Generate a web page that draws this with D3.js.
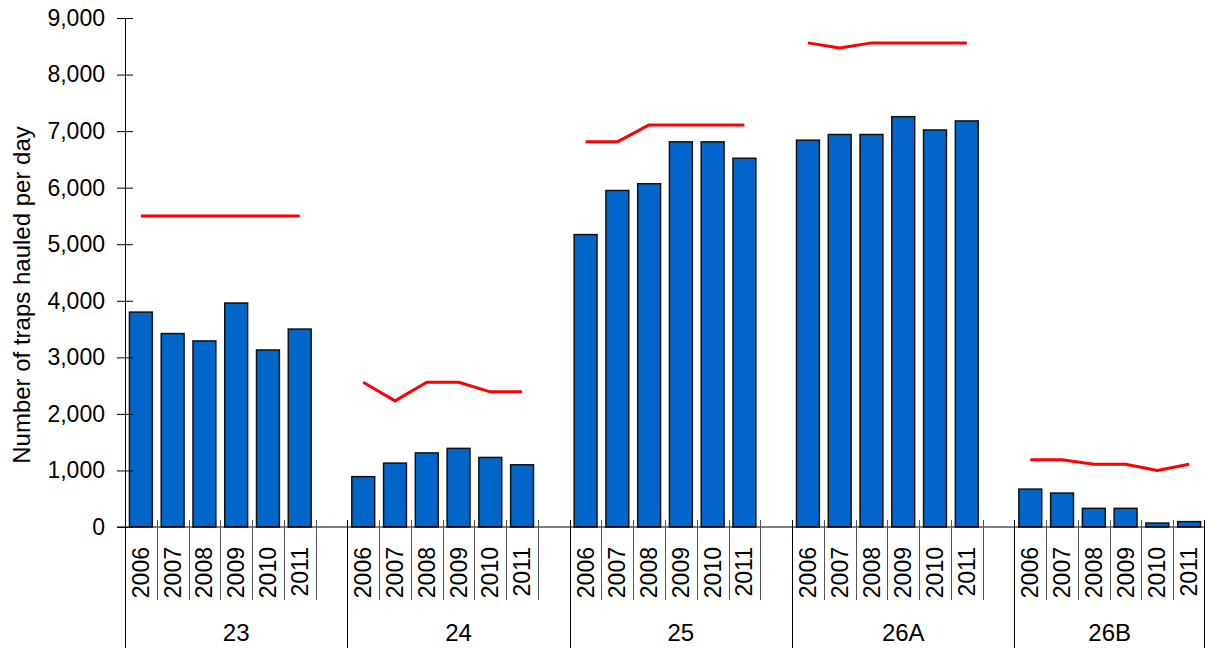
<!DOCTYPE html>
<html>
<head>
<meta charset="utf-8">
<script src="https://cdn.jsdelivr.net/npm/d3@7"></script>
<style>
  html, body { margin: 0; padding: 0; background: #fff; }
  svg { display: block; font-family: "Liberation Sans", Arial, sans-serif; }
</style>
</head>
<body>
<svg id="chart" width="1206" height="648"></svg>
<script>
// ---- data ----
const groups = ["23", "24", "25", "26A", "26B"];
const years = ["2006", "2007", "2008", "2009", "2010", "2011"];
const trapsHauled = {
  "23":  [3800, 3420, 3290, 3960, 3130, 3500],
  "24":  [890, 1130, 1310, 1390, 1230, 1100],
  "25":  [5170, 5950, 6070, 6810, 6810, 6520],
  "26A": [6840, 6940, 6940, 7255, 7020, 7180],
  "26B": [670, 600, 330, 330, 70, 95]
};
const trapLimit = {
  "23":  [5500, 5500, 5500, 5500, 5500, 5500],
  "24":  [2560, 2230, 2560, 2560, 2390, 2390],
  "25":  [6810, 6810, 7110, 7110, 7110, 7110],
  "26A": [8560, 8470, 8560, 8560, 8560, 8560],
  "26B": [1190, 1190, 1110, 1110, 1000, 1110]
};
const yTicks = [0, 1000, 2000, 3000, 4000, 5000, 6000, 7000, 8000, 9000];
const yTitle = "Number of traps hauled per day";

// ---- layout ----
const svg = d3.select("#chart");
const mLeft = 125, mRight = 1205, mTop = 18, mBottom = 527;

// slots: 6 years per group plus one empty slot between groups
const slots = [];
groups.forEach((g, gi) => {
  years.forEach(yr => slots.push(g + "|" + yr));
  if (gi < groups.length - 1) slots.push(g + "|gap");
});

const x = d3.scaleBand().domain(slots).range([mLeft, mRight])
  .paddingInner(0.28).paddingOuter(0.14);
const step = x.step();
const slotStart = k => x(k) - step * x.paddingInner() / 2;
const slotCenter = k => x(k) + x.bandwidth() / 2;

const y = d3.scaleLinear().domain([0, 9000]).range([mBottom, mTop]);

// ---- bars ----
const barData = [];
groups.forEach(g => years.forEach((yr, i) => barData.push({ key: g + "|" + yr, v: trapsHauled[g][i] })));

svg.append("g").selectAll("rect").data(barData).join("rect")
  .attr("x", d => x(d.key))
  .attr("y", d => y(d.v))
  .attr("width", x.bandwidth())
  .attr("height", d => y(0) - y(d.v))
  .attr("fill", "#0066CC")
  .attr("stroke", "#111")
  .attr("stroke-width", 1.5);

// ---- red lines ----
const line = d3.line().x(d => slotCenter(d.key)).y(d => y(d.v));
groups.forEach(g => {
  const pts = years.map((yr, i) => ({ key: g + "|" + yr, v: trapLimit[g][i] }));
  svg.append("path").datum(pts)
    .attr("d", line)
    .attr("fill", "none")
    .attr("stroke", "#FF0000")
    .attr("stroke-width", 3)
    .attr("stroke-linejoin", "round");
});

// ---- y axis ----
const yAxis = svg.append("g").attr("transform", `translate(${mLeft},0)`)
  .call(d3.axisLeft(y).tickValues(yTicks).tickFormat(d3.format(",")).tickSizeInner(8).tickSizeOuter(0).tickPadding(12));
yAxis.select(".domain").attr("stroke", "#000");
yAxis.selectAll(".tick line").attr("x1", 8).attr("x2", -8).attr("stroke", "#000");
yAxis.selectAll(".tick text").attr("font-size", 23).attr("fill", "#000")
  .attr("font-family", "Liberation Sans, Arial, sans-serif");

// y title
svg.append("text")
  .attr("transform", `translate(30,295) rotate(-90)`)
  .attr("text-anchor", "middle")
  .attr("font-size", 24)
  .attr("fill", "#000")
  .text(yTitle);

// ---- x axis ----
const xa = svg.append("g");
xa.append("line").attr("x1", mLeft - 8).attr("x2", mRight).attr("y1", mBottom).attr("y2", mBottom)
  .attr("stroke", "#000");

// slot boundary ticks
slots.forEach((k, i) => {
  const g = k.split("|")[0];
  const isGroupStart = i === 0 || slots[i - 1].split("|")[0] !== g;
  const xs = Math.round(slotStart(k)) + 0.5;
  if (isGroupStart) {
    xa.append("line").attr("x1", xs).attr("x2", xs).attr("y1", mBottom - 7).attr("y2", 648)
      .attr("stroke", "#000");
  } else {
    xa.append("line").attr("x1", xs).attr("x2", xs).attr("y1", mBottom - 7).attr("y2", 600)
      .attr("stroke", "#555");
  }
});
// final right edge
const lastK = slots[slots.length - 1];
const xEnd = Math.round(slotStart(lastK) + step) - 0.5;
xa.append("line").attr("x1", xEnd).attr("x2", xEnd).attr("y1", mBottom - 7).attr("y2", 648).attr("stroke", "#000");

// year labels
xa.selectAll("text.year").data(slots.filter(k => !k.endsWith("gap"))).join("text")
  .attr("class", "year")
  .attr("transform", k => `translate(${slotCenter(k)},547) rotate(-90)`)
  .attr("text-anchor", "end")
  .attr("dy", "0.35em")
  .attr("font-size", 23)
  .attr("fill", "#000")
  .text(k => k.split("|")[1]);

// group labels
groups.forEach(g => {
  const first = slotStart(g + "|2006");
  const last = slotStart(g + "|2011") + step;
  const end = g === groups[groups.length - 1] ? last : last + step;
  svg.append("text")
    .attr("x", (first + end) / 2)
    .attr("y", 641)
    .attr("text-anchor", "middle")
    .attr("font-size", 24)
    .attr("fill", "#000")
    .text(g);
});
</script>
</body>
</html>
